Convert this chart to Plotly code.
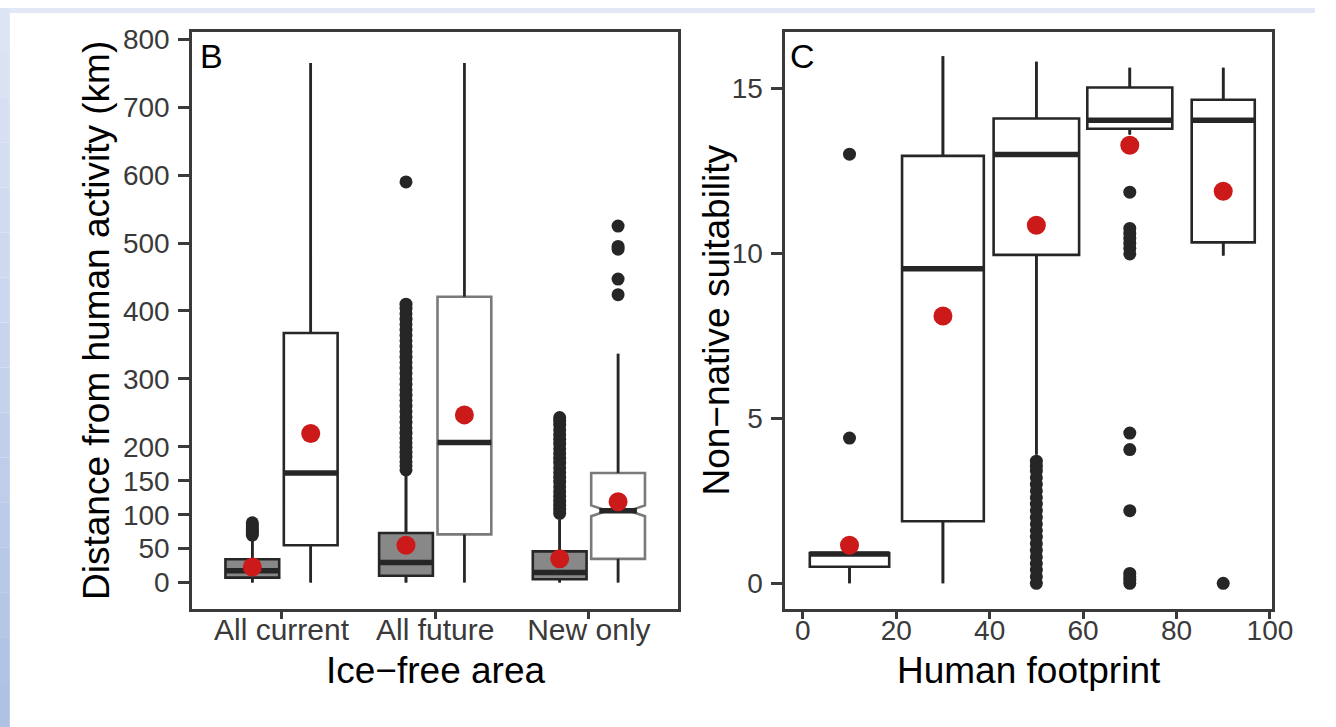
import plotly.graph_objects as go

# ---------------- Panel B data (distance from human activity, km) ----------------
categories = ["All current", "All future", "New only"]

dark_q1 = [7.3, 10, 5]
dark_median = [17.5, 29.5, 15]
dark_q3 = [34.5, 73, 46]
dark_low = [0, 0, 0]
dark_high = [62, 157, 93]
dark_mean = [23, 55, 35]
dark_outliers = [
    [70, 73, 76, 79, 82, 85, 88],
    [166, 172, 178, 185, 192, 199, 206, 213, 220, 228, 236, 244, 252, 260, 268, 276,
     284, 292, 300, 308, 316, 324, 332, 340, 348, 356, 364, 372, 380, 388, 396, 404, 410, 590],
    [102, 108, 114, 120, 127, 134, 141, 148, 155, 162, 169, 176, 183, 190, 197, 204,
     211, 218, 225, 232, 238, 243],
]

white_q1 = [55, 71, 35]
white_median = [161.5, 206.5, 105.7]
white_q3 = [367.5, 421, 161.5]
white_low = [0, 0, 0]
white_high = [765, 765, 337]
white_mean = [219.6, 247, 119]
white_notchspan = [None, None, 8]
white_outliers = [[], [], [525, 495, 491, 447, 424]]

# ---------------- Panel C data (non-native suitability) ----------------
footprint = [10, 30, 50, 70, 90]
c_q1 = [0.5, 1.88, 9.95, 13.77, 10.33]
c_median = [0.89, 9.53, 12.99, 14.03, 14.03]
c_q3 = [0.92, 12.95, 14.08, 15.02, 14.65]
c_low = [0, 0, 3.9, 13.6, 9.93]
c_high = [0.92, 15.97, 15.8, 15.62, 15.62]
c_mean = [1.15, 8.1, 10.85, 13.27, 11.88]
c_outliers = [
    [4.4, 13.0],
    [],
    [0, 0.2, 0.4, 0.6, 0.8, 1.0, 1.2, 1.4, 1.6, 1.8, 2.0, 2.2, 2.4, 2.6, 2.8, 3.0, 3.2, 3.4, 3.55, 3.7],
    [11.85, 10.75, 10.6, 10.45, 10.3, 10.15, 9.98, 4.55, 4.05, 2.2, 0.3, 0.2, 0.1, 0],
    [0],
]

# ---------------- styles ----------------
W, H = 1336, 727
FONT = "Liberation Sans, Arial, Helvetica, sans-serif"
FRAME = "#3a3a3a"
INK = "#262626"
RED = "#cc1a1a"
TICK_FONT = dict(family=FONT, size=28, color="#3a3a3a")
CAT_FONT = dict(family=FONT, size=30, color="#3a3a3a")
TITLE_FONT = dict(family=FONT, size=37, color="black")
B_WIDTH = 0.35
B_OFFSET = 0.19
C_WIDTH = [17, 17.5, 18.3, 18.2, 13.5]
NOTCHW = 0.3
white_line = ["#262626", "#7a7a7a", "#7a7a7a"]
OUT_SIZE = 13
MEAN_SIZE = 19

fig = go.Figure()


def add_box(pos, q1, med, q3, lo, hi, width, xa, ya, fill, line, notchspan=None):
    kw = {}
    if notchspan is not None:
        kw = dict(notched=True, notchspan=[notchspan], notchwidth=NOTCHW)
    fig.add_trace(go.Box(
        x=[pos], q1=[q1], median=[med], q3=[q3], lowerfence=[lo], upperfence=[hi],
        width=width, whiskerwidth=0, boxpoints=False, fillcolor=fill,
        line=dict(color=line, width=2.6), xaxis=xa, yaxis=ya, showlegend=False,
        hoverinfo="skip", **kw))
    for a, b in ((q3, hi), (lo, q1)):
        if b != a:
            fig.add_trace(go.Scatter(x=[pos, pos], y=[a, b], mode="lines",
                                     line=dict(color=INK, width=2.6), xaxis=xa, yaxis=ya,
                                     showlegend=False, hoverinfo="skip"))
    half = width / 2 * ((1 - NOTCHW) if notchspan is not None else 1)
    fig.add_trace(go.Scatter(x=[pos - half, pos + half], y=[med, med], mode="lines",
                             line=dict(color=INK, width=5.5), xaxis=xa, yaxis=ya,
                             showlegend=False, hoverinfo="skip"))


def add_points(pos, vals, xa, ya, color, size):
    if not vals:
        return
    fig.add_trace(go.Scatter(x=[pos] * len(vals), y=vals, mode="markers",
                             marker=dict(color=color, size=size, line=dict(width=0)),
                             xaxis=xa, yaxis=ya, showlegend=False, hoverinfo="skip"))


# Panel B
for i, cat in enumerate(categories):
    c = i + 1
    add_box(c - B_OFFSET, dark_q1[i], dark_median[i], dark_q3[i], dark_low[i], dark_high[i],
            B_WIDTH, "x", "y", "#888888", INK)
    add_box(c + B_OFFSET, white_q1[i], white_median[i], white_q3[i], white_low[i], white_high[i],
            B_WIDTH, "x", "y", "white", white_line[i], white_notchspan[i])
for i, cat in enumerate(categories):
    c = i + 1
    add_points(c - B_OFFSET, dark_outliers[i], "x", "y", INK, OUT_SIZE)
    add_points(c + B_OFFSET, white_outliers[i], "x", "y", INK, OUT_SIZE)
    add_points(c - B_OFFSET, [dark_mean[i]], "x", "y", RED, MEAN_SIZE)
    add_points(c + B_OFFSET, [white_mean[i]], "x", "y", RED, MEAN_SIZE)

# Panel C
for i, fp in enumerate(footprint):
    add_box(fp, c_q1[i], c_median[i], c_q3[i], c_low[i], c_high[i], C_WIDTH[i],
            "x2", "y2", "white", INK)
for i, fp in enumerate(footprint):
    add_points(fp, c_outliers[i], "x2", "y2", INK, OUT_SIZE)
    add_points(fp, [c_mean[i]], "x2", "y2", RED, MEAN_SIZE)

ydom = [(H - 607.3) / H, (H - 24) / H]
axis_common = dict(showline=True, mirror=True, linecolor=FRAME, linewidth=3,
                   ticks="outside", tickcolor=FRAME, tickwidth=3,
                   showgrid=False, zeroline=False, fixedrange=True)

fig.update_layout(
    width=W, height=H, margin=dict(l=0, r=0, t=0, b=0),
    paper_bgcolor="white", plot_bgcolor="white",
    xaxis=dict(domain=[195.3 / W, 689 / W], range=[0.419, 3.581],
               tickvals=[1, 2, 3], ticktext=categories, ticklen=7, tickfont=CAT_FONT,
               ticklabelstandoff=-15, anchor="y", **axis_common),
    yaxis=dict(domain=ydom, range=[-38.3, 811.2], tickfont=TICK_FONT,
               tickvals=[0, 50, 100, 150, 200, 300, 400, 500, 600, 700, 800], ticklen=11,
               ticklabelstandoff=3, anchor="x", **axis_common),
    xaxis2=dict(domain=[798 / W, 1292.5 / W], range=[-3.71, 100.48], tickfont=TICK_FONT,
                tickvals=[0, 20, 40, 60, 80, 100], ticklen=7, ticklabelstandoff=-12,
                anchor="y2", **axis_common),
    yaxis2=dict(domain=ydom, range=[-0.767, 16.71], tickvals=[0, 5, 10, 15], ticklen=11,
                tickfont=TICK_FONT, ticklabelstandoff=3, anchor="x2", **axis_common),
)

# axis titles and panel letters
titles = [
    dict(text="Ice\u2212free area", x=442 / W, y=(H - 669.5) / H, textangle=0),
    dict(text="Human footprint", x=1045 / W, y=(H - 669.5) / H, textangle=0),
    dict(text="Distance from human activity (km)", x=98 / W, y=(H - 316) / H, textangle=-90),
    dict(text="Non\u2212native suitability", x=727.5 / W, y=(H - 316) / H, textangle=-90),
]
for t in titles:
    fig.add_annotation(xref="paper", yref="paper", showarrow=False, xanchor="center",
                       yanchor="middle", font=TITLE_FONT, **t)
for letter, lx in (("B", 201), ("C", 801)):
    fig.add_annotation(x=lx / W, y=(H - 48.5) / H, xref="paper", yref="paper", text=letter,
                       showarrow=False, xanchor="left", yanchor="middle",
                       font=dict(family=FONT, size=34, color="black"))

# decorative light-blue page border (top strip and left gradient strip)
shapes = [dict(type="rect", xref="paper", yref="paper", x0=0, x1=1, y0=1 - 5 / H, y1=1,
               fillcolor="#e2e8f5", line=dict(width=0), layer="below")]
top_rgb = (0xdf, 0xe6, 0xf4)
bot_rgb = (0xad, 0xc0, 0xe5)
n = 16
for k in range(n):
    t = (k + 0.5) / n
    col = tuple(round(top_rgb[j] + (bot_rgb[j] - top_rgb[j]) * t) for j in range(3))
    shapes.append(dict(type="rect", xref="paper", yref="paper", x0=0, x1=10 / W,
                       y0=1 - (k + 1) / n, y1=1 - k / n,
                       fillcolor="rgb(%d,%d,%d)" % col, line=dict(width=0), layer="below"))
fig.update_layout(shapes=shapes)

fig.write_html("out.html")
